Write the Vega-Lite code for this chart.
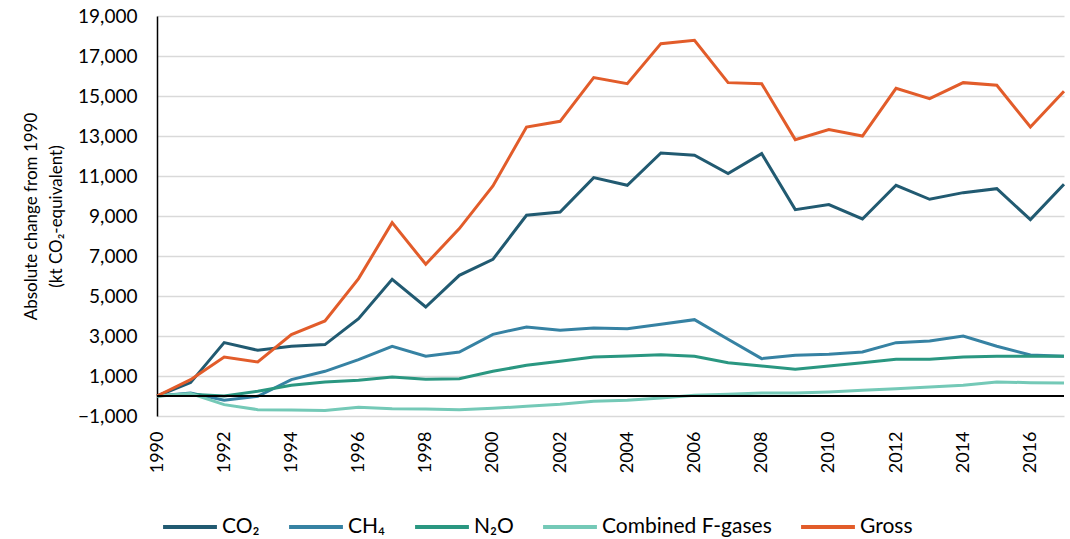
{
  "$schema": "https://vega.github.io/schema/vega-lite/v6.json",
  "width": 907,
  "height": 400,
  "autosize": {"type": "none"},
  "padding": {"left": 157, "top": 16, "right": 6, "bottom": 123},
  "background": "white",
  "config": {
    "font": "Lato",
    "view": {"stroke": null}
  },
  "data": {
    "values": [
      {"year": 1990, "co2": 0, "ch4": 0, "n2o": 0, "fgas": 0, "gross": 0},
      {"year": 1991, "co2": 670, "ch4": 150, "n2o": 85, "fgas": 118, "gross": 818},
      {"year": 1992, "co2": 2670, "ch4": -215, "n2o": 0, "fgas": -432, "gross": 1950},
      {"year": 1993, "co2": 2285, "ch4": -15, "n2o": 235, "fgas": -682, "gross": 1700},
      {"year": 1994, "co2": 2485, "ch4": 818, "n2o": 535, "fgas": -700, "gross": 3068},
      {"year": 1995, "co2": 2570, "ch4": 1235, "n2o": 700, "fgas": -720, "gross": 3750},
      {"year": 1996, "co2": 3870, "ch4": 1818, "n2o": 785, "fgas": -565, "gross": 5868},
      {"year": 1997, "co2": 5835, "ch4": 2485, "n2o": 950, "fgas": -632, "gross": 8668},
      {"year": 1998, "co2": 4450, "ch4": 1985, "n2o": 835, "fgas": -650, "gross": 6585},
      {"year": 1999, "co2": 6035, "ch4": 2200, "n2o": 868, "fgas": -682, "gross": 8368},
      {"year": 2000, "co2": 6835, "ch4": 3085, "n2o": 1235, "fgas": -615, "gross": 10500},
      {"year": 2001, "co2": 9035, "ch4": 3450, "n2o": 1535, "fgas": -515, "gross": 13450},
      {"year": 2002, "co2": 9200, "ch4": 3285, "n2o": 1735, "fgas": -415, "gross": 13735},
      {"year": 2003, "co2": 10920, "ch4": 3400, "n2o": 1950, "fgas": -265, "gross": 15918},
      {"year": 2004, "co2": 10535, "ch4": 3368, "n2o": 2000, "fgas": -215, "gross": 15618},
      {"year": 2005, "co2": 12150, "ch4": 3585, "n2o": 2068, "fgas": -100, "gross": 17618},
      {"year": 2006, "co2": 12035, "ch4": 3818, "n2o": 1985, "fgas": 35, "gross": 17785},
      {"year": 2007, "co2": 11120, "ch4": 2835, "n2o": 1668, "fgas": 85, "gross": 15668},
      {"year": 2008, "co2": 12120, "ch4": 1868, "n2o": 1500, "fgas": 150, "gross": 15618},
      {"year": 2009, "co2": 9318, "ch4": 2035, "n2o": 1335, "fgas": 150, "gross": 12818},
      {"year": 2010, "co2": 9568, "ch4": 2085, "n2o": 1500, "fgas": 200, "gross": 13318},
      {"year": 2011, "co2": 8850, "ch4": 2200, "n2o": 1668, "fgas": 285, "gross": 13000},
      {"year": 2012, "co2": 10535, "ch4": 2668, "n2o": 1835, "fgas": 368, "gross": 15385},
      {"year": 2013, "co2": 9835, "ch4": 2750, "n2o": 1835, "fgas": 450, "gross": 14868},
      {"year": 2014, "co2": 10168, "ch4": 3000, "n2o": 1950, "fgas": 535, "gross": 15668},
      {"year": 2015, "co2": 10368, "ch4": 2485, "n2o": 1985, "fgas": 700, "gross": 15535},
      {"year": 2016, "co2": 8818, "ch4": 2052, "n2o": 1985, "fgas": 668, "gross": 13450},
      {"year": 2017, "co2": 10585, "ch4": 1985, "n2o": 1985, "fgas": 650, "gross": 15235}
    ]
  },
  "layer": [
    {
      "transform": [
        {"fold": ["co2", "ch4", "n2o", "fgas", "gross"], "as": ["gas", "value"]}
      ],
      "mark": {"type": "line", "strokeWidth": 3, "strokeJoin": "miter"},
      "encoding": {
        "x": {
          "field": "year",
          "type": "quantitative",
          "scale": {"domain": [1990, 2017], "nice": false, "zero": false},
          "axis": {
            "title": null,
            "values": [1990, 1992, 1994, 1996, 1998, 2000, 2002, 2004, 2006, 2008, 2010, 2012, 2014, 2016],
            "tickCount": 30,
            "format": "d",
            "labelAngle": 270,
            "labelAlign": "right",
            "labelBaseline": "middle",
            "labelFontSize": 18,
            "labelColor": "black",
            "labelPadding": 15,
            "ticks": false,
            "grid": false,
            "domain": false,
            "labelFlush": false,
            "labelOverlap": false
          }
        },
        "y": {
          "field": "value",
          "type": "quantitative",
          "scale": {"domain": [-1000, 19000], "nice": false, "zero": false},
          "axis": {
            "title": ["Absolute change from 1990", "(kt CO₂-equivalent)"],
            "titleFontSize": 17,
            "titleFontWeight": "normal",
            "titleColor": "black",
            "titlePadding": 12,
            "titleLineHeight": 25,
            "values": [-1000, 1000, 3000, 5000, 7000, 9000, 11000, 13000, 15000, 17000, 19000],
            "tickCount": 30,
            "format": ",d",
            "labelFontSize": 19,
            "labelColor": "black",
            "labelPadding": 20,
            "labelOverlap": false,
            "labelFlush": false,
            "ticks": false,
            "grid": true,
            "gridColor": "#d9d9d9",
            "gridWidth": 1.5,
            "domain": true,
            "domainColor": "black",
            "domainWidth": 1.5
          }
        },
        "color": {
          "field": "gas",
          "type": "nominal",
          "scale": {
            "domain": ["co2", "ch4", "n2o", "fgas", "gross"],
            "range": ["#215a71", "#3682a3", "#2a9781", "#74c9b7", "#e25c2a"]
          },
          "legend": {
            "title": null,
            "orient": "none",
            "direction": "horizontal",
            "legendX": 4,
            "legendY": 482,
            "symbolType": "stroke",
            "symbolSize": 2900,
            "symbolStrokeWidth": 4,
            "labelFontSize": 21,
            "labelLimit": 300,
            "labelColor": "black",
            "labelOffset": 3,
            "columnPadding": 21,
            "padding": 0,
            "labelExpr": "{'co2': 'CO₂', 'ch4': 'CH₄', 'n2o': 'N₂O', 'fgas': 'Combined F-gases', 'gross': 'Gross'}[datum.value]"
          }
        }
      }
    },
    {
      "mark": {"type": "rule", "color": "black", "strokeWidth": 1.5},
      "encoding": {"y": {"datum": 0, "type": "quantitative"}}
    }
  ]
}
